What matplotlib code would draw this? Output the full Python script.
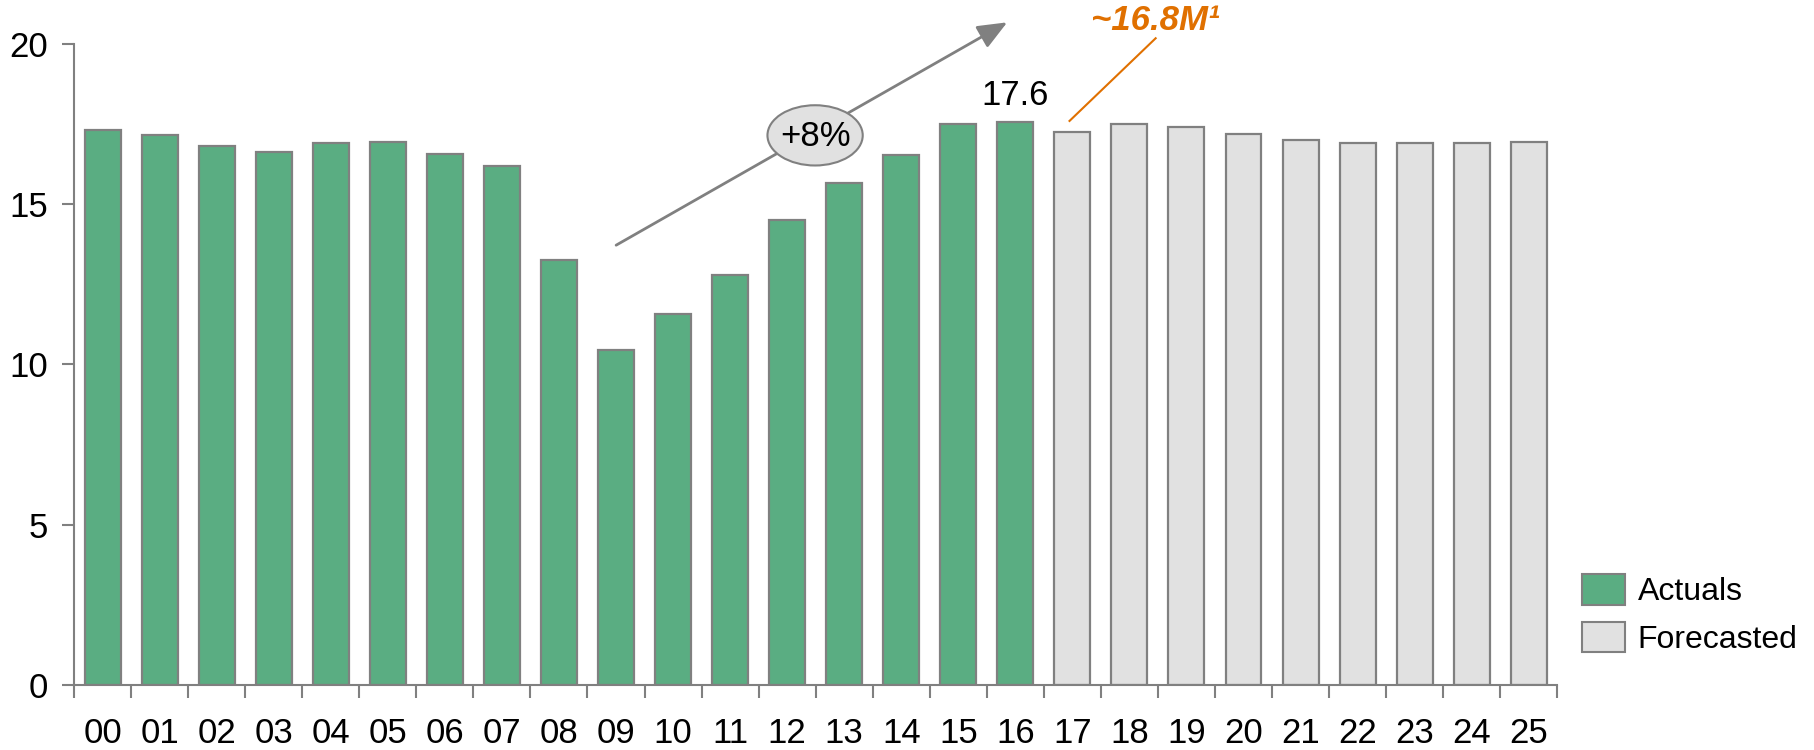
import matplotlib.pyplot as plt
import numpy as np
from matplotlib.patches import Ellipse, Patch

plt.rcParams['font.family'] = ['Liberation Sans', 'DejaVu Sans']

years = ['00', '01', '02', '03', '04', '05', '06', '07', '08', '09', '10', '11', '12',
         '13', '14', '15', '16', '17', '18', '19', '20', '21', '22', '23', '24', '25']
# actuals 00-16, forecast 17-25 (millions)
actuals = [17.33, 17.15, 16.82, 16.64, 16.9, 16.93, 16.57, 16.2, 13.25, 10.45, 11.59,
           12.78, 14.51, 15.65, 16.53, 17.5, 17.58]
forecast = [17.26, 17.5, 17.4, 17.2, 17.0, 16.9, 16.9, 16.9, 16.93]

green = '#5aad82'
grey_fill = '#e1e1e1'
edge = '#808080'
orange = '#e07000'
fs = 25

fig = plt.figure(figsize=(18.15, 7.5), dpi=100)
ax = fig.add_axes([0.0408, 0.0867, 0.8172, 0.8546])

x_act = np.arange(len(actuals))
x_fc = np.arange(len(actuals), len(years))
ax.bar(x_act, actuals, width=0.63, color=green, edgecolor=edge, linewidth=1.6)
ax.bar(x_fc, forecast, width=0.63, color=grey_fill, edgecolor=edge, linewidth=1.6)

ax.set_xlim(-0.5, len(years) - 0.5)
ax.set_ylim(0, 20)
ax.set_yticks([0, 5, 10, 15, 20])
ax.set_xticks(np.arange(len(years)))
ax.set_xticklabels(years)
ax.set_xticks(np.arange(-0.5, len(years)), minor=True)

for s in ['top', 'right']:
    ax.spines[s].set_visible(False)
for s in ['left', 'bottom']:
    ax.spines[s].set_color(edge)
    ax.spines[s].set_linewidth(1.5)

ax.tick_params(axis='y', length=9, width=1.5, color=edge, labelsize=fs, pad=10)
ax.tick_params(axis='x', which='major', length=0, labelsize=fs, pad=23)
ax.tick_params(axis='x', which='minor', length=9, width=1.5, color=edge)

# value label on last actual
ax.text(x_act[-1], actuals[-1] + 0.3, '17.6', ha='center', va='bottom', fontsize=fs)

# growth arrow
ax.annotate('', xy=(15.9, 20.72), xytext=(8.96, 13.68), annotation_clip=False,
            arrowprops=dict(arrowstyle='-|>,head_length=0.6,head_width=0.25', color=edge,
                            lw=2, mutation_scale=30))
ell = Ellipse((12.49, 17.15), width=1.67, height=1.88, facecolor=grey_fill,
              edgecolor=edge, linewidth=1.5, zorder=5)
ax.add_patch(ell)
ax.text(12.49, 17.1, '+8%', ha='center', va='center', fontsize=fs, zorder=6)

# forecast callout
ax.plot([16.95, 18.46], [17.6, 20.18], color=orange, lw=1.5, clip_on=False)
ax.text(18.45, 20.72, '~16.8M\u00b9', ha='center', va='center', fontsize=fs,
        color=orange, fontweight='bold', fontstyle='italic')

handles = [Patch(facecolor=green, edgecolor=edge, linewidth=1.5, label='Actuals'),
           Patch(facecolor=grey_fill, edgecolor=edge, linewidth=1.5, label='Forecasted')]
fig.legend(handles=handles, loc='lower left', bbox_to_anchor=(0.8645, 0.11), frameon=False,
           fontsize=23, handlelength=1.35, handleheight=1.1, handletextpad=0.4,
           labelspacing=0.45, borderaxespad=0)

fig.savefig('out.png', dpi=100)
